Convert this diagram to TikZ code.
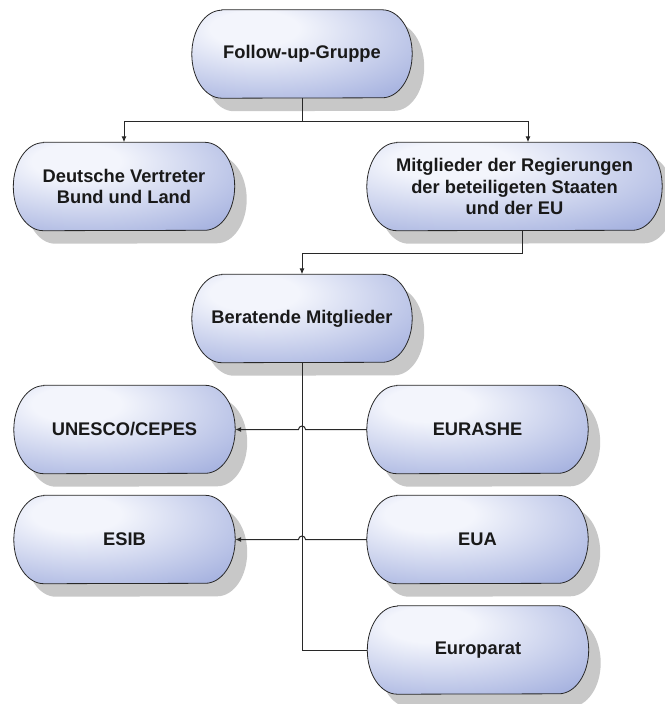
\documentclass[tikz,border=0pt]{standalone}
\usepackage{fontspec}
\setmainfont{Liberation Sans}
\usetikzlibrary{arrows.meta,calc,backgrounds}
\definecolor{pilllight}{RGB}{243,245,252}
\definecolor{pillblue}{RGB}{136,152,212}
\definecolor{shadowc}{RGB}{200,200,200}
\definecolor{linec}{RGB}{40,40,40}
\pgfdeclareradialshading{pillshade}{\pgfpoint{-12bp}{16bp}}{color(0bp)=(pilllight); color(10bp)=(pilllight); color(55bp)=(pillblue); color(100bp)=(pillblue)}
\newcommand\pill[4]{\path[#1] ([shift={(#3+30,#4)}]#2.north west) -- ([shift={(#3-30,#4)}]#2.north east) arc[start angle=90,end angle=-90,x radius=30pt,y radius=44pt] -- ([shift={(#3+30,#4)}]#2.south west) arc[start angle=270,end angle=90,x radius=30pt,y radius=44pt] -- cycle;}
\newcommand\fullpill[1]{\pill{fill=shadowc}{#1}{12}{-13}\pill{shading=pillshade,draw=linec,line width=0.8pt}{#1}{0}{0}}
\begin{document}
\begin{tikzpicture}[x=1pt,y=1pt,
  box/.style={rectangle,inner sep=0pt,minimum height=88pt,minimum width=221pt,align=center,
    font=\bfseries\fontsize{18.3}{21.5}\selectfont,text=black!90},
  conn/.style={draw=linec,line width=1pt},
  arr/.style={conn,-{Latex[length=6pt,width=5pt]}}]
\useasboundingbox (0,0) rectangle (664,-704);
\node[box,minimum width=220pt] (fu) at (302,-54) {Follow-up-Gruppe};
\node[box] (dv) at (124,-186.5) {Deutsche Vertreter\\Bund und Land};
\node[box,minimum width=295pt] (mr) at (514.5,-186.5) {Mitglieder der Regierungen\\der beteiligeten Staaten\\und der EU};
\node[box,minimum width=220pt] (bm) at (302,-318.5) {Beratende Mitglieder};
\node[box] (un) at (124.5,-429.5) {UNESCO/CEPES};
\node[box] (es) at (124.5,-539.5) {ESIB};
\node[box] (eh) at (477.5,-429.5) {EURASHE};
\node[box] (eu) at (477.5,-539.5) {EUA};
\node[box] (ep) at (478,-650) {Europarat};
\begin{scope}[on background layer]
\fill[white] (0,0) rectangle (664,-704);
\foreach \n in {fu,dv,mr,bm,un,es,eh,eu,ep}{\fullpill{\n}}
\end{scope}
\draw[arr] (fu.south) -- ++(0,-23) -| (dv.north);
\draw[arr] (fu.south) -- ++(0,-23) -| ([xshift=13.5]mr.north);
\draw[arr] ([xshift=7.5]mr.south) -- ++(0,-23) -| (bm.north);
\draw[conn] (bm.south) |- (ep.west);
\draw[arr] (eh.west) -- ($(bm.south |- eh.west)+(3.5,0)$) arc[start angle=0,end angle=180,radius=3.5pt] -- (un.east);
\draw[arr] (eu.west) -- ($(bm.south |- eu.west)+(3.5,0)$) arc[start angle=0,end angle=180,radius=3.5pt] -- (es.east);
\end{tikzpicture}
\end{document}
